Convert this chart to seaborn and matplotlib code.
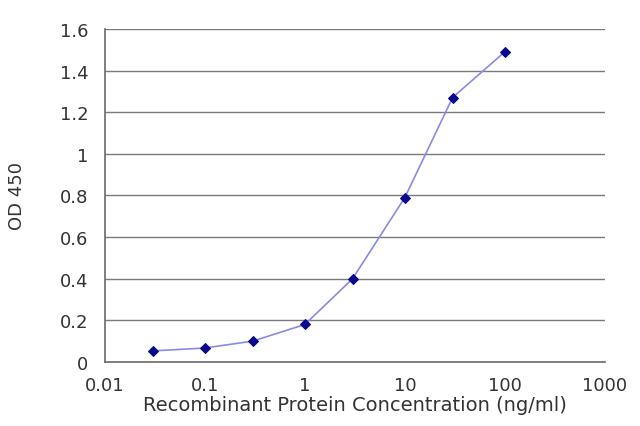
import matplotlib
matplotlib.use("Agg")
import matplotlib.pyplot as plt
import seaborn as sns
import pandas as pd
from matplotlib.ticker import FixedLocator, FixedFormatter, NullLocator

concentration = [0.03, 0.1, 0.3, 1, 3, 10, 30, 100]
od450 = [0.053, 0.067, 0.10, 0.18, 0.40, 0.79, 1.27, 1.49]
x_ticks = [0.01, 0.1, 1, 10, 100, 1000]
x_tick_labels = ["0.01", "0.1", "1", "10", "100", "1000"]
y_ticks = [0, 0.2, 0.4, 0.6, 0.8, 1, 1.2, 1.4, 1.6]
y_tick_labels = ["0", "0.2", "0.4", "0.6", "0.8", "1", "1.2", "1.4", "1.6"]

df = pd.DataFrame({"conc": concentration, "od": od450})

sns.set_style("white")
plt.rcParams["font.family"] = ["DejaVu Sans"]

fig = plt.figure(figsize=(6.4, 4.27), dpi=100)
ax = fig.add_axes([0.164, 0.150, 0.781, 0.780])

sns.lineplot(data=df, x="conc", y="od", ax=ax, color="#8a8ae6", linewidth=1.2,
             marker="D", markersize=5, markerfacecolor="#0a0a8c",
             markeredgecolor="#0a0a8c")

ax.set_xscale("log")
ax.set_xlim(0.01, 1000)
ax.set_ylim(0, 1.6)
ax.xaxis.set_major_locator(FixedLocator(x_ticks))
ax.xaxis.set_major_formatter(FixedFormatter(x_tick_labels))
ax.xaxis.set_minor_locator(NullLocator())
ax.yaxis.set_major_locator(FixedLocator(y_ticks))
ax.yaxis.set_major_formatter(FixedFormatter(y_tick_labels))

for y in y_ticks[1:]:
    ax.axhline(y, color="#7a7a7a", linewidth=1.0, zorder=0)

for s in ["top", "right"]:
    ax.spines[s].set_visible(False)
for s in ["left", "bottom"]:
    ax.spines[s].set_color("#6a6a6a")
    ax.spines[s].set_linewidth(1.2)

ax.tick_params(axis="x", direction="in", length=4, color="#6a6a6a", labelsize=13,
               labelcolor="#333333", pad=10)
ax.tick_params(axis="y", direction="out", length=4, color="#6a6a6a", labelsize=13,
               labelcolor="#333333", pad=8)
ax.set_xlabel("Recombinant Protein Concentration (ng/ml)", fontsize=14, color="#333333", labelpad=1)
ax.set_ylabel("OD 450", fontsize=13, color="#333333", labelpad=24)

fig.savefig("out.png", dpi=100)
